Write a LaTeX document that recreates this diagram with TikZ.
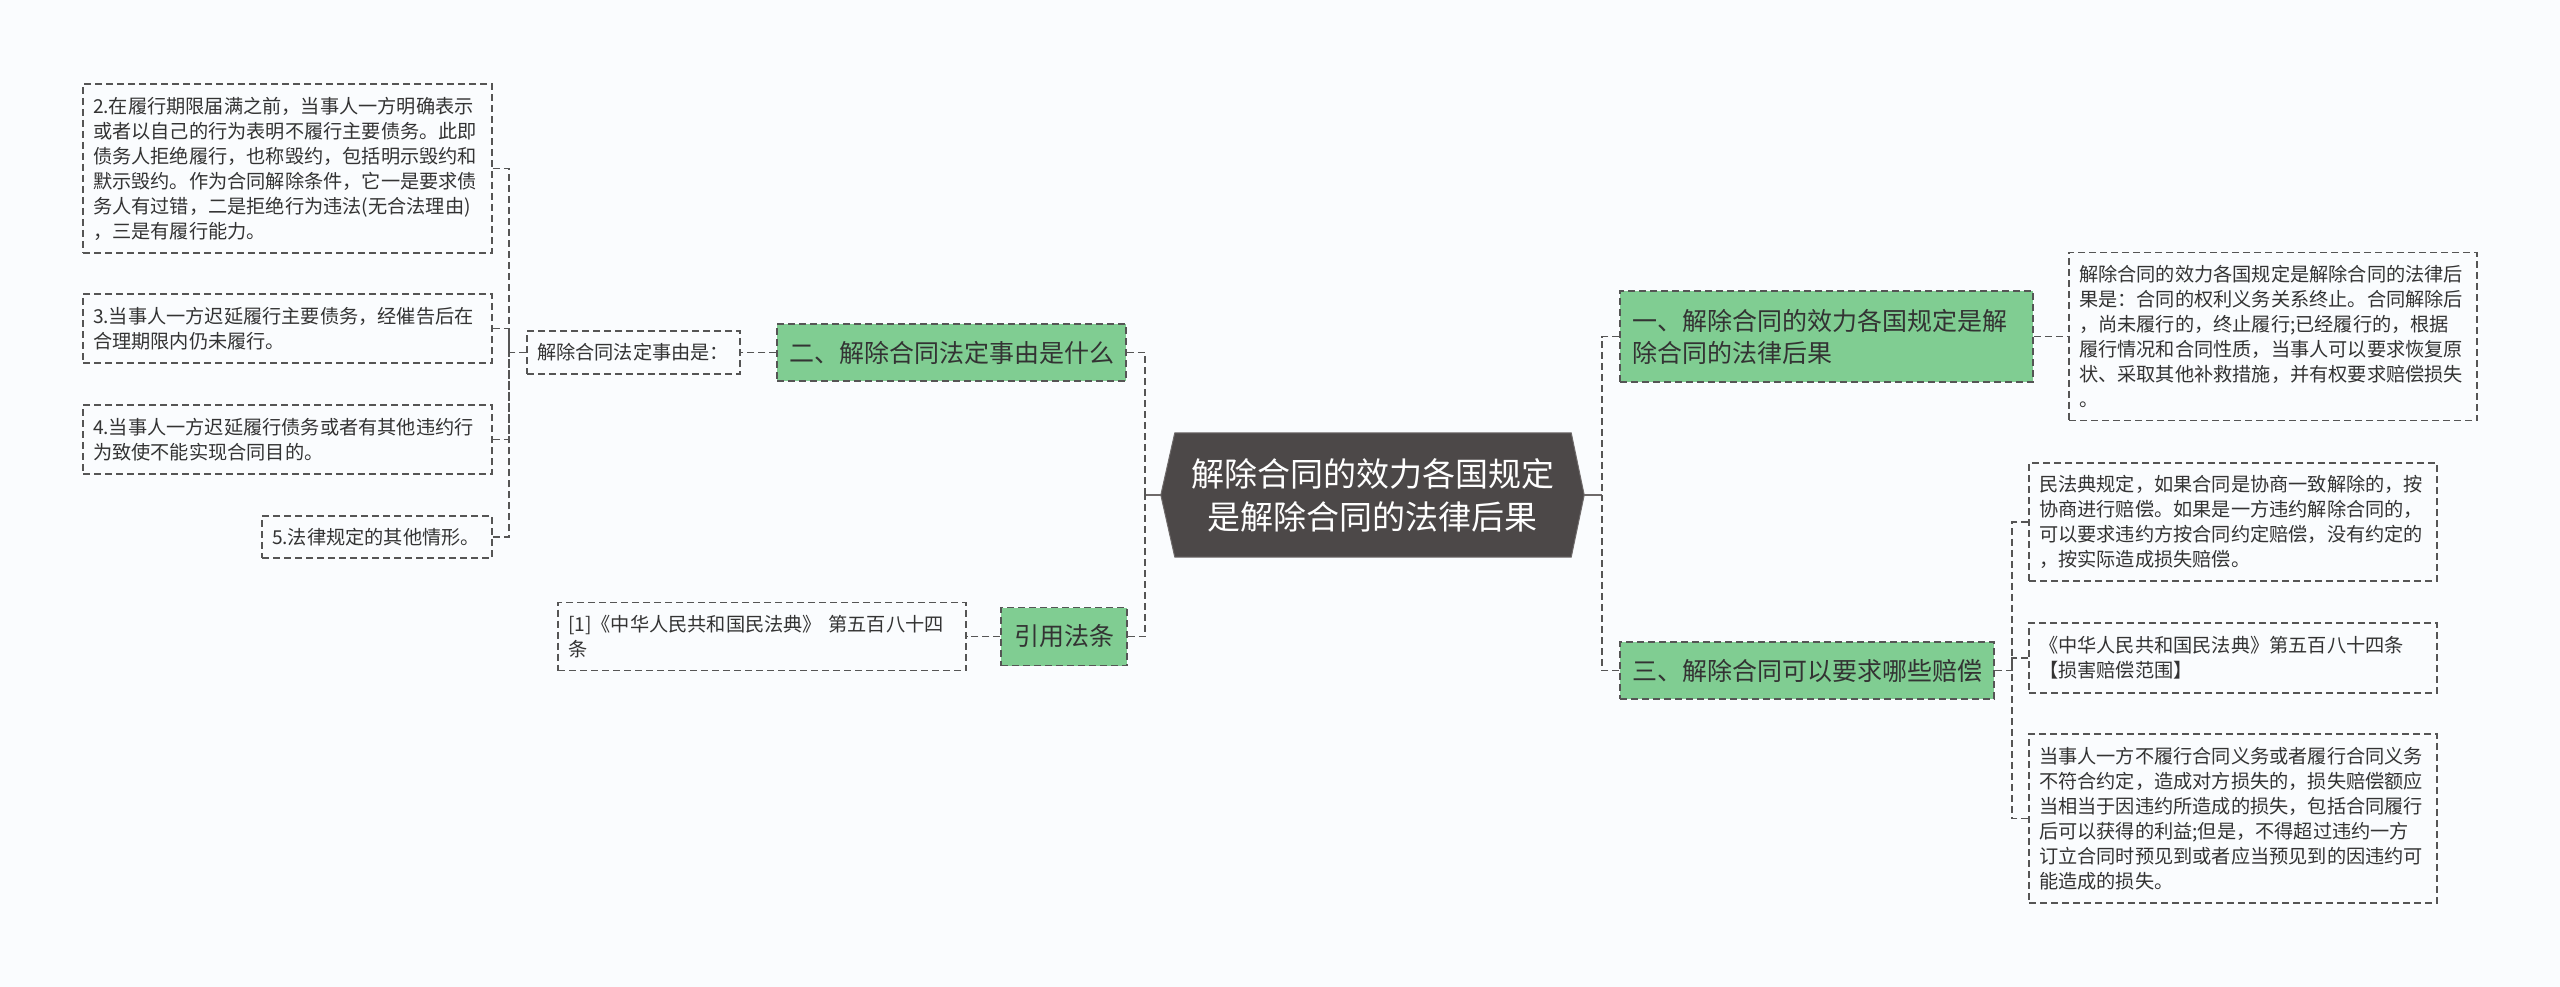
\documentclass[tikz,border=0pt]{standalone}
\usepackage{fontspec}
\newfontfamily\cjk{Noto Sans CJK SC}
\usetikzlibrary{calc,backgrounds}
\definecolor{bgc}{RGB}{250,252,254}
\definecolor{ink}{RGB}{51,51,51}
\definecolor{edgec}{RGB}{85,85,85}
\definecolor{leaf}{RGB}{128,205,146}
\definecolor{hubc}{RGB}{76,72,72}
\definecolor{hubline}{RGB}{110,106,106}
\tikzset{
  base/.style={text=ink, inner ysep=0pt, anchor=center},
  txtbox/.style={base, draw=edgec, dash pattern=on 7pt off 4pt, line width=1.5pt,
    fill=bgc, align=left, inner xsep=10pt, font=\cjk\fontsize{19.2}{25}\selectfont},
  topic/.style={base, draw=edgec, dash pattern=on 7pt off 4pt, line width=1.5pt,
    fill=leaf, inner xsep=12pt, font=\cjk\fontsize{25}{32}\selectfont},
  hubtext/.style={base, text=white, align=center, inner xsep=0pt,
    font=\cjk\fontsize{33}{43}\selectfont},
  conn/.style={draw=edgec, line width=1.5pt, dash pattern=on 7pt off 4pt},
  hubconn/.style={draw=hubline, line width=2.5pt},
}
\begin{document}
\begin{tikzpicture}[x=1pt,y=-1pt]
\useasboundingbox (0,0) rectangle (2560,987);

% central node
\node[hubtext, minimum width=423pt, minimum height=124pt] (hub) at (1372.5,495)
  {解除合同的效力各国规定\\是解除合同的法律后果};
\begin{pgfonlayer}{background}
  \fill[bgc] (0,0) rectangle (2560,987);
  \filldraw[fill=hubc, draw=hubline, line width=1pt]
    (hub.west) -- ($(hub.north west)+(14,0)$) -- ($(hub.north east)+(-13,0)$)
    -- (hub.east) -- ($(hub.south east)+(-13,0)$) -- ($(hub.south west)+(14,0)$) -- cycle;
\end{pgfonlayer}

% left branch: topics
\node[topic, minimum width=349pt, minimum height=57pt] (two) at (951.5,352.5)
  {二、解除合同法定事由是什么};
\node[topic, minimum width=126pt, minimum height=58pt, inner xsep=0pt] (cite) at (1064,636.5)
  {引用法条};

% left branch: texts
\node[txtbox, text width=193pt, minimum height=43pt] (reason) at (633.5,352.5)
  {解除合同法定事由是：};
\node[txtbox, text width=389pt, minimum height=169pt] (b1) at (287.5,168.5)
  {2.在履行期限届满之前，当事人一方明确表示\\
   或者以自己的行为表明不履行主要债务。此即\\
   债务人拒绝履行，也称毁约，包括明示毁约和\\
   默示毁约。作为合同解除条件，它一是要求债\\
   务人有过错，二是拒绝行为违法(无合法理由)\\
   ，三是有履行能力。};
\node[txtbox, text width=389pt, minimum height=69pt] (b2) at (287.5,328.5)
  {3.当事人一方迟延履行主要债务，经催告后在\\合理期限内仍未履行。};
\node[txtbox, text width=389pt, minimum height=69pt] (b3) at (287.5,439.5)
  {4.当事人一方迟延履行债务或者有其他违约行\\为致使不能实现合同目的。};
\node[txtbox, text width=210pt, minimum height=42pt] (b4) at (377,537)
  {5.法律规定的其他情形。};
\node[txtbox, text width=388pt, minimum height=68pt] (ref1) at (762,636.5)
  {[1]《中华人民共和国民法典》 第五百八十四\\条};

% right branch: topics
\node[topic, text width=389pt, align=left, minimum height=91pt] (one) at (1826.5,336.5)
  {一、解除合同的效力各国规定是解\\除合同的法律后果};
\node[topic, minimum width=374pt, minimum height=57pt] (three) at (1807,670.5)
  {三、解除合同可以要求哪些赔偿};

% right branch: texts
\node[txtbox, text width=388pt, minimum height=168pt] (onetxt) at (2273,336.5)
  {解除合同的效力各国规定是解除合同的法律后\\
   果是：合同的权利义务关系终止。合同解除后\\
   ，尚未履行的，终止履行;已经履行的，根据\\
   履行情况和合同性质，当事人可以要求恢复原\\
   状、采取其他补救措施，并有权要求赔偿损失\\
   。};
\node[txtbox, text width=388pt, minimum height=118pt] (c1) at (2233,522)
  {民法典规定，如果合同是协商一致解除的，按\\
   协商进行赔偿。如果是一方违约解除合同的，\\
   可以要求违约方按合同约定赔偿，没有约定的\\
   ，按实际造成损失赔偿。};
\node[txtbox, text width=388pt, minimum height=70pt] (c2) at (2233,658)
  {《中华人民共和国民法典》第五百八十四条\\【损害赔偿范围】};
\node[txtbox, text width=388pt, minimum height=169pt] (c3) at (2233,818.5)
  {当事人一方不履行合同义务或者履行合同义务\\
   不符合约定，造成对方损失的，损失赔偿额应\\
   当相当于因违约所造成的损失，包括合同履行\\
   后可以获得的利益;但是，不得超过违约一方\\
   订立合同时预见到或者应当预见到的因违约可\\
   能造成的损失。};

% junctions
\coordinate (jl) at (1145,495);
\coordinate (jr) at (1602,495);
\coordinate (jreason) at (509,352.5);
\coordinate (jthree) at (2012,670.5);

% connectors
\draw[hubconn] (hub.west) -- (jl);
\draw[hubconn] (hub.east) -- (jr);
\draw[conn] (two.east) -| (jl);
\draw[conn] (cite.east) -| (jl);
\draw[conn] (one.west) -| (jr);
\draw[conn] (three.west) -| (jr);

\draw[conn] (two.west) -- (reason.east);
\draw[conn] (reason.west) -- (jreason);
\draw[conn] (b1.east) -| (jreason);
\draw[conn] (b2.east) -| (jreason);
\draw[conn] (b3.east) -| (jreason);
\draw[conn] (b4.east) -| (jreason);

\draw[conn] (cite.west) -- (ref1.east);
\draw[conn] (one.east) -- (onetxt.west);

\draw[conn] (three.east) -- (jthree);
\draw[conn] (c1.west) -| (jthree);
\draw[conn] (c2.west) -| (jthree);
\draw[conn] (c3.west) -| (jthree);
\end{tikzpicture}
\end{document}
